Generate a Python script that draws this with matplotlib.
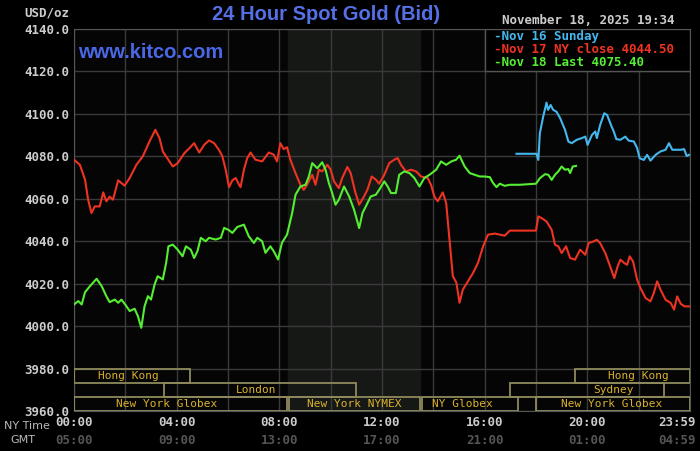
import matplotlib
matplotlib.use("Agg")
import matplotlib.pyplot as plt
import matplotlib.transforms as mtransforms
from matplotlib.patches import Rectangle

# Nov 17 (NY close 4044.50) - hours NY time, price
nov17_h = [0.0, 0.23, 0.43, 0.55, 0.68, 0.81, 1.0, 1.14, 1.26, 1.39, 1.52, 1.72, 1.97, 2.17,
           2.43, 2.68, 2.94, 3.17, 3.33, 3.46, 3.72, 3.85, 4.04, 4.3, 4.5, 4.68, 4.88, 5.07,
           5.26, 5.46, 5.65, 5.78, 5.91, 6.04, 6.17, 6.3, 6.43, 6.49, 6.62, 6.75, 6.88, 7.07,
           7.33, 7.59, 7.78, 7.91, 8.04, 8.17, 8.3, 8.43, 8.63, 8.82, 8.95, 9.08, 9.28, 9.41,
           9.54, 9.67, 9.87, 10.0, 10.13, 10.32, 10.45, 10.65, 10.78, 10.95, 11.11, 11.3,
           11.43, 11.6, 11.76, 11.89, 12.09, 12.28, 12.48, 12.61, 12.74, 12.93, 13.13, 13.33,
           13.52, 13.78, 13.91, 14.04, 14.17, 14.37, 14.5, 14.63, 14.76, 14.9, 15.02, 15.15,
           15.35, 15.55, 15.74, 15.94, 16.13, 16.4, 16.59, 16.78, 16.98, 17.37, 18.0, 18.09,
           18.22, 18.41, 18.61, 18.74, 18.87, 19.0, 19.17, 19.33, 19.52, 19.72, 19.92, 20.05,
           20.24, 20.37, 20.5, 20.7, 20.89, 21.05, 21.18, 21.29, 21.44, 21.55, 21.65, 21.78,
           21.94, 22.07, 22.27, 22.46, 22.59, 22.72, 22.85, 23.05, 23.25, 23.38, 23.5, 23.64,
           23.79, 23.96]
nov17_p = [4078.4, 4076, 4069, 4059.6, 4053.3, 4056.4, 4056.4, 4063, 4058.8, 4061, 4059.6,
           4068.7, 4066.2, 4069.8, 4076, 4080, 4087, 4092.5, 4088.6, 4082.3, 4077.6, 4075.2,
           4076.8, 4081.5, 4083.9, 4086.2, 4081.8, 4085.4, 4087.5, 4086.2, 4083, 4080, 4073.7,
           4065.5, 4068.7, 4069.8, 4066.6, 4065.5, 4073.7, 4079.2, 4081.8, 4078.4, 4077.6,
           4081.8, 4080.8, 4077.6, 4086.2, 4083.4, 4084.3, 4078.4, 4072.1, 4066.6, 4064.2,
           4066.6, 4071.3, 4066.6, 4073.7, 4072.9, 4076, 4073.7, 4068.2, 4065, 4069.8, 4075,
           4072.1, 4063.5, 4057.2, 4061.1, 4064.2, 4070.5, 4069, 4067.1, 4071.3, 4076.8,
           4078.4, 4079.2, 4076, 4072.9, 4073.7, 4072.9, 4070.5, 4069.8, 4066.6, 4061.1,
           4058.8, 4063, 4058, 4040.8, 4023.5, 4020.4, 4011, 4017.2, 4021.2, 4025.1, 4029.8,
           4037.6, 4043.1, 4043.6, 4043.1, 4042.6, 4045, 4045, 4045, 4051.7, 4050.9, 4049.3,
           4045.4, 4038.3, 4037.6, 4034.4, 4037.6, 4032.1, 4031.3, 4036, 4033.6, 4039.1,
           4039.9, 4040.7, 4039.1, 4034.4, 4028.1, 4022.6, 4028.1, 4031.3, 4029.7, 4028.9,
           4032.9, 4030.5, 4021.9, 4017.9, 4013.2, 4011.7, 4015.6, 4021.1, 4017.2, 4012.4,
           4010.9, 4007.8, 4014, 4010.5, 4009.3, 4009.3]

# Nov 18 (last 4075.40)
nov18_h = [0.0, 0.17, 0.3, 0.43, 0.62, 0.88, 1.08, 1.26, 1.39, 1.59, 1.72, 1.85, 2.04, 2.17,
           2.36, 2.49, 2.62, 2.75, 2.88, 3.0, 3.14, 3.26, 3.46, 3.59, 3.68, 3.85, 4.04, 4.23,
           4.36, 4.55, 4.68, 4.81, 4.94, 5.13, 5.26, 5.52, 5.72, 5.85, 6.04, 6.17, 6.36, 6.62,
           6.81, 7.01, 7.14, 7.33, 7.46, 7.65, 7.78, 7.95, 8.1, 8.3, 8.5, 8.63, 8.82, 9.02,
           9.15, 9.28, 9.48, 9.67, 9.8, 9.93, 10.06, 10.19, 10.32, 10.52, 10.72, 10.91, 11.11,
           11.24, 11.37, 11.56, 11.76, 11.89, 12.09, 12.22, 12.35, 12.54, 12.67, 12.87, 13.07,
           13.26, 13.46, 13.65, 13.85, 14.11, 14.3, 14.5, 14.7, 14.89, 15.02, 15.22, 15.42,
           15.61, 15.81, 16.0, 16.2, 16.33, 16.46, 16.59, 16.78, 16.98, 17.37, 18.0, 18.15,
           18.35, 18.48, 18.61, 18.74, 18.87, 19.0, 19.13, 19.26, 19.33, 19.43, 19.56]
nov18_p = [4010.2, 4011.8, 4010.2, 4016, 4018.8, 4022.3, 4018.8, 4014.1, 4011.3, 4012.5,
           4011, 4012.5, 4009.4, 4007.1, 4008.2, 4004.7, 3999.2, 4009.4, 4014.1, 4012.5,
           4019.6, 4023.5, 4022, 4029.8, 4037.6, 4038.4, 4036, 4032.9, 4037.6, 4036, 4032.1,
           4035.3, 4041.6, 4040, 4041.6, 4040.8, 4041.6, 4046.3, 4045.2, 4043.9, 4046.7,
           4047.8, 4042.3, 4039.2, 4041.6, 4040, 4034.5, 4037.6, 4035.3, 4031.4, 4039.2,
           4043.1, 4053.3, 4061.9, 4065.8, 4066.6, 4070.5, 4076.8, 4074.4, 4077.2, 4073.7,
           4067.4, 4062.7, 4057.2, 4059.6, 4065.8, 4061.1, 4054.9, 4046.2, 4053.3, 4056.4,
           4061.1, 4061.9, 4064.2, 4068.2, 4065.8, 4062.7, 4062.7, 4071.3, 4072.9, 4072.1,
           4069.8, 4065.8, 4069.8, 4071.3, 4073.7, 4077.6, 4076, 4077.6, 4078.4, 4080.3,
           4075.2, 4072.1, 4071.3, 4070.5, 4070.5, 4070.2, 4067.4, 4065.5, 4067.1, 4066.1,
           4066.6, 4066.6, 4067.1, 4069.7, 4071.6, 4071.3, 4068.9, 4071.3, 4072.9, 4075.2,
           4073.7, 4074, 4072.1, 4075.2, 4075.5]

# Nov 16 (Sunday)
nov16_h = [17.24, 18.02, 18.09, 18.15, 18.28, 18.41, 18.47, 18.57, 18.67, 18.8, 18.94, 19.13,
           19.26, 19.39, 19.59, 19.79, 19.92, 20.01, 20.18, 20.31, 20.37, 20.5, 20.66, 20.77,
           20.92, 21.03, 21.13, 21.29, 21.48, 21.61, 21.81, 21.94, 22.04, 22.2, 22.33, 22.46,
           22.66, 22.85, 23.05, 23.18, 23.31, 23.5, 23.64, 23.77, 23.87, 23.96]
nov16_p = [4081.2, 4081.2, 4078.3, 4090.9, 4098.7, 4105.3, 4101.9, 4104.2, 4101.9, 4101,
           4098, 4092.5, 4087, 4086.2, 4087.8, 4088.6, 4089.3, 4085.4, 4090.1, 4091.7,
           4088.6, 4094.8, 4100.3, 4099.5, 4094.8, 4091.7, 4088.1, 4087.8, 4089.3, 4087.4,
           4087, 4083.9, 4079.1, 4078.3, 4080.7, 4078, 4080.7, 4082.3, 4083.1, 4086.2,
           4083.1, 4083.1, 4083.1, 4083.4, 4080.2, 4080.7]

# trading sessions: (name, start hour, end hour, row, label x)
sessions = [("Hong Kong", 0.0, 4.5, 0, 2.1),
            ("Hong Kong", 19.5, 24.0, 0, 22.0),
            ("London", 3.5, 11.0, 1, 7.1),
            ("Sydney", 17.0, 23.0, 1, 21.0),
            ("New York Globex", 0.0, 8.28, 2, 3.6),
            ("New York NYMEX", 8.36, 13.48, 2, 10.9),
            ("NY Globex", 13.55, 17.3, 2, 15.15),
            ("New York Globex", 18.0, 24.0, 2, 20.95)]

ny_ticks = [0, 4, 8, 12, 16, 20, 24]
ny_labels = ["00:00", "04:00", "08:00", "12:00", "16:00", "20:00", "23:59"]
gmt_labels = ["05:00", "09:00", "13:00", "17:00", "21:00", "01:00", "04:59"]

mono = "DejaVu Sans Mono"

fig = plt.figure(figsize=(7.0, 4.51), dpi=100, facecolor="black")
ax = fig.add_axes([74 / 700, 40 / 451, 616 / 700, 382 / 451])
ax.set_facecolor("#050505")
ax.set_xlim(0, 24)
ax.set_ylim(3960, 4140)

# NYMEX shading
ax.axvspan(8.33, 13.5, color="#161816", zorder=0)

ax.set_xticks(range(0, 25, 2))
ax.set_yticks(range(3960, 4141, 20))
ax.grid(True, color="#3a3a3a", lw=1.0, zorder=1)
ax.tick_params(length=0, colors="#cccccc")
ax.set_xticklabels([])
ax.set_yticklabels(["%.1f" % v for v in range(3960, 4141, 20)], family=mono,
                   fontsize=9, fontweight="bold", color="#cccccc")
for s in ax.spines.values():
    s.set_color("#555555")

# session boxes
row_h = 20 / 3
for name, a, b, row, lx in sessions:
    y0 = 3980 - (row + 1) * row_h
    ax.add_patch(Rectangle((a, y0), b - a, row_h, fill=False, ec="#8f8a5c", lw=1.3, zorder=3))
    ax.text(lx, y0 + row_h / 2, name, color="#d9b12e", family=mono, fontsize=8,
            ha="center", va="center", zorder=4)

ax.plot(nov17_h, nov17_p, color="#ee3322", lw=1.5, zorder=5)
ax.plot(nov18_h, nov18_p, color="#55ee33", lw=1.5, zorder=6)
ax.plot(nov16_h, nov16_p, color="#44b8ee", lw=1.5, zorder=5)

# legend box in top right cell
ax.add_patch(Rectangle((16, 4120), 8, 20, fc="black", ec="#555555", lw=1.0, zorder=7))
leg = [("Nov 16 Sunday", "#44b8ee"),
       ("Nov 17 NY close 4044.50", "#ee3322"),
       ("Nov 18 Last 4075.40", "#55ee33")]
for i, (t, c) in enumerate(leg):
    yy = 4136.7 - i * 6.3
    ax.text(16.35, yy, "-" + t, color=c, family=mono, fontsize=9, fontweight="bold",
            va="center", ha="left", zorder=8)

# x labels: NY time and GMT
trans = mtransforms.blended_transform_factory(ax.transData, fig.transFigure)
for h, l1, l2 in zip(ny_ticks, ny_labels, gmt_labels):
    if h == 24:
        x, ha, tr = 696 / 700, "right", fig.transFigure
    else:
        x, ha, tr = h, "center", trans
    ax.text(x, 1 - 423 / 451, l1, transform=tr if h == 24 else trans, ha=ha, va="center",
            family=mono, fontsize=9, fontweight="bold", color="#cccccc")
    ax.text(x, 1 - 440 / 451, l2, transform=tr if h == 24 else trans, ha=ha, va="center",
            family=mono, fontsize=9, fontweight="bold", color="#555555")
fig.text(50 / 700, 1 - 426 / 451, "NY Time", ha="right", va="center", fontsize=8,
         color="#bbbbbb", family="DejaVu Sans")
fig.text(23 / 700, 1 - 440 / 451, "GMT", ha="center", va="center", fontsize=8,
         color="#bbbbbb", family="DejaVu Sans")

fig.text(69 / 700, 1 - 13 / 451, "USD/oz", ha="right", va="center", family=mono,
         fontsize=9, fontweight="bold", color="#cccccc")
fig.text(326 / 700, 1 - 15 / 451, "24 Hour Spot Gold (Bid)", ha="center", va="center",
         fontsize=14.5, color="#5570e6", family="Liberation Sans", fontweight="bold")
fig.text(588 / 700, 1 - 20 / 451, "November 18, 2025 19:34", ha="center", va="center",
         family=mono, fontsize=9, fontweight="bold", color="#cccccc")
fig.text(78 / 700, 1 - 52 / 451, "www.kitco.com", ha="left", va="center", fontsize=14.5,
         color="#4a68e6", family="Liberation Sans", fontweight="bold")

fig.savefig("out.png", dpi=100, facecolor="black")
